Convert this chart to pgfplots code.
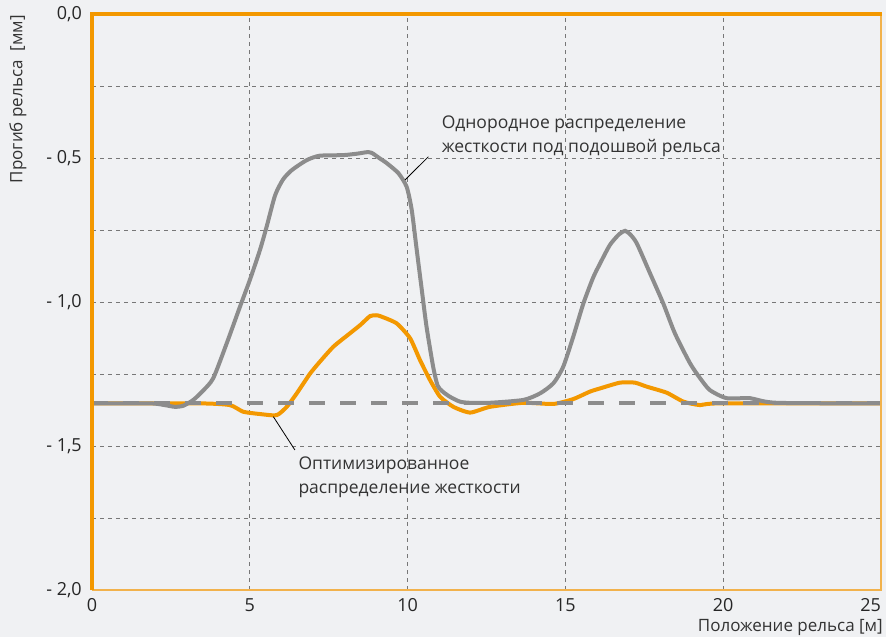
\documentclass[border=0pt]{standalone}
\usepackage{pgfplots}
\pgfplotsset{compat=1.18}
\usepackage{fontspec}
\setmainfont{Open Sans}
\definecolor{bg}{HTML}{F0F1F3}
\definecolor{org}{HTML}{F39800}
\definecolor{orgl}{HTML}{F2B24C}
\definecolor{gr}{HTML}{8C8C8C}
\definecolor{txt}{HTML}{333333}
\begin{document}
\begin{tikzpicture}
\fill[bg] (-92pt,-47pt) rectangle (794pt,590pt);
\begin{axis}[
  scale only axis, width=789pt, height=576pt,
  xmin=0, xmax=25, ymin=-2, ymax=0,
  clip=false,
  axis line style={draw=none},
  major tick length=0pt, minor tick length=0pt,
  xtick={0,5,10,15,20,25},
  xticklabels={0,5,10,15,20,{\makebox[0pt][r]{25}}},
  ytick={-2,-1.5,-1,-0.5,0},
  yticklabels={{- 2,0},{- 1,5},{- 1,0},{- 0,5},{0,0}},
  minor ytick={-1.75,-1.25,-0.75,-0.25},
  grid=both,
  major grid style={gr!85!black, line width=0.9pt, dash pattern=on 4pt off 4pt},
  minor grid style={gr!85!black, line width=0.9pt, dash pattern=on 4pt off 4pt},
  tick label style={font=\fontsize{18}{22}\selectfont, text=black!85, inner sep=0pt},
  xticklabel style={anchor=north, yshift=-8pt},
  yticklabel style={anchor=east, xshift=-10pt},
]
\addplot[org, line width=4pt, smooth, tension=0.35] coordinates {
(0,-1.352) (3.42,-1.352) (4.37,-1.358) (4.79,-1.381) (5.32,-1.389) (5.85,-1.393)
(6.17,-1.364) (6.49,-1.317) (6.9,-1.25) (7.2,-1.21) (7.65,-1.155) (8.17,-1.109)
(8.5,-1.08) (8.81,-1.049) (9.0,-1.046) (9.13,-1.049) (9.65,-1.074) (10.08,-1.126)
(10.39,-1.201) (10.71,-1.271) (11.03,-1.329) (11.45,-1.364) (11.98,-1.384)
(12.61,-1.364) (13.67,-1.35) (14.62,-1.354) (15.25,-1.337) (15.78,-1.311)
(16.1,-1.30) (16.73,-1.28) (17.2,-1.28) (17.58,-1.294) (18.21,-1.315)
(18.74,-1.346) (19.27,-1.358) (19.9,-1.352) (25,-1.352)
};
\addplot[gr, line width=4pt, smooth, tension=0.4] coordinates {
(0,-1.352) (1.84,-1.352) (2.3,-1.358) (2.63,-1.364) (2.9,-1.36) (3.21,-1.34)
(3.5,-1.31) (3.84,-1.265) (4.27,-1.143) (4.69,-1.016) (5.0,-0.924) (5.32,-0.82)
(5.53,-0.74) (5.8,-0.63) (6.05,-0.575) (6.3,-0.545) (6.59,-0.522) (6.85,-0.505)
(7.22,-0.492) (7.96,-0.49) (8.4,-0.485) (8.70,-0.48) (8.86,-0.482) (9.1,-0.5)
(9.34,-0.518) (9.71,-0.553) (9.97,-0.6) (10.13,-0.68) (10.29,-0.82) (10.45,-0.958)
(10.6,-1.086) (10.81,-1.225) (10.95,-1.29) (11.1,-1.31) (11.34,-1.329)
(11.66,-1.346) (11.98,-1.35) (12.61,-1.35) (13.67,-1.34) (14.2,-1.317)
(14.62,-1.282) (14.93,-1.225) (15.25,-1.12) (15.57,-1.005) (15.88,-0.915)
(16.1,-0.866) (16.41,-0.802) (16.7,-0.765) (16.89,-0.753) (17.05,-0.765)
(17.26,-0.796) (17.68,-0.9) (18.1,-1.005) (18.47,-1.109) (18.95,-1.213)
(19.27,-1.265) (19.58,-1.306) (20.11,-1.334) (20.85,-1.334) (21.69,-1.35) (25,-1.352)
};
\addplot[gr, line width=4pt, dash pattern=on 16pt off 15pt] coordinates {(0,-1.352) (25,-1.352)};
% frame
\draw[orgl, line width=1.5pt] (axis cs:0,-2) -- (axis cs:25,-2) -- (axis cs:25,0);
\draw[org, line width=4pt] (axis cs:0,-2.0) -- (axis cs:0,0) -- (axis cs:25.02,0);
% annotations
\draw[black, line width=0.8pt] (axis cs:9.92,-0.576) -- (axis cs:10.66,-0.4955);
\draw[black, line width=0.8pt] (axis cs:5.745,-1.398) -- (axis cs:6.43,-1.514);
\node[anchor=base west, inner sep=0pt, text=txt, font=\fontsize{17.5}{22}\selectfont] at (axis cs:11.08,-0.397) {Однородное распределение};
\node[anchor=base west, inner sep=0pt, text=txt, font=\fontsize{17.5}{22}\selectfont] at (axis cs:11.08,-0.4816) {жесткости под подошвой рельса};
\node[anchor=base west, inner sep=0pt, text=txt, font=\fontsize{17.5}{22}\selectfont] at (axis cs:6.537,-1.581) {Оптимизированное};
\node[anchor=base west, inner sep=0pt, text=txt, font=\fontsize{17.5}{22}\selectfont] at (axis cs:6.537,-1.664) {распределение жесткости};
\end{axis}
\node[rotate=90, anchor=east, inner sep=0pt, text=txt, font=\fontsize{17}{22}\selectfont] at (-74pt,575pt) {Прогиб рельса\ \ [мм]};
\node[anchor=east, inner sep=0pt, text=txt, font=\fontsize{17}{22}\selectfont] at (791pt,-37pt) {Положение рельса [м]};
\pgfresetboundingbox
\useasboundingbox (-92pt,-47pt) rectangle (794pt,590pt);
\end{tikzpicture}
\end{document}
